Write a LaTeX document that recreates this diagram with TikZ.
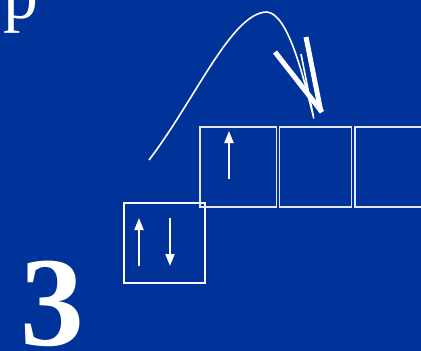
\documentclass[tikz,border=0pt]{standalone}
\usepackage{fontspec}
\setmainfont{Liberation Serif}
\usetikzlibrary{arrows.meta, positioning}
\definecolor{slideblue}{RGB}{0,51,153}
\definecolor{boxline}{RGB}{228,232,245}

\begin{document}
\begin{tikzpicture}[
  x=1bp, y=-1bp,
  orb/.style={rectangle, draw=white, line width=2bp, inner sep=0pt, outer sep=0pt,
              minimum width=81bp, minimum height=80bp},
  cell/.style={rectangle, draw=boxline, line width=1.5bp, inner sep=0pt, outer sep=0pt,
               minimum height=80bp},
  spin/.style={white, line width=2bp, -{Triangle[width=9bp,length=12bp]}},
  pointer/.style={white, line width=1.6bp, line join=round},
  stroke/.style={white, line width=5bp},
  label/.style={text=white, inner sep=0pt, anchor=base west},
]
  \useasboundingbox (0,0) rectangle (421,351);
  \fill[slideblue] (0,0) rectangle (421,351);
  \clip (0,0) rectangle (421,351);

  \node[label, font=\fontsize{70}{70}\selectfont] (orbp) at (3,18) {p};
  \node[label, font=\fontsize{128}{128}\selectfont\bfseries] (num) at (20,345) {3};

  % orbital boxes
  \node[orb, anchor=north west] (s) at (124,203) {};
  \node[cell, minimum width=76.5bp, anchor=north west] (c1) at (200,127) {};
  \node[cell, minimum width=72bp, right=3.2bp of c1] (c2) {};
  \node[cell, minimum width=80bp, right=3.2bp of c2] (c3) {};

  % electrons
  \draw[spin] (139,266) -- (139,218);
  \draw[spin] (170,218) -- (170,266);
  \draw[spin] (229,179) -- (229,131);

  % hand drawn pointer
  \coordinate (from) at (149,160);
  \coordinate (peak) at (267,12);
  \coordinate (tip) at ([xshift=-2bp, yshift=9bp]c2.north);
  \draw[pointer] (from) .. controls (195,100) and (232,12) .. (peak)
    .. controls (288,14) and (303,75) .. (tip) -- (301,54);
  \draw[stroke] (275,52) -- (322,112);
  \draw[stroke] (306,37) -- (321,112);
\end{tikzpicture}
\end{document}
